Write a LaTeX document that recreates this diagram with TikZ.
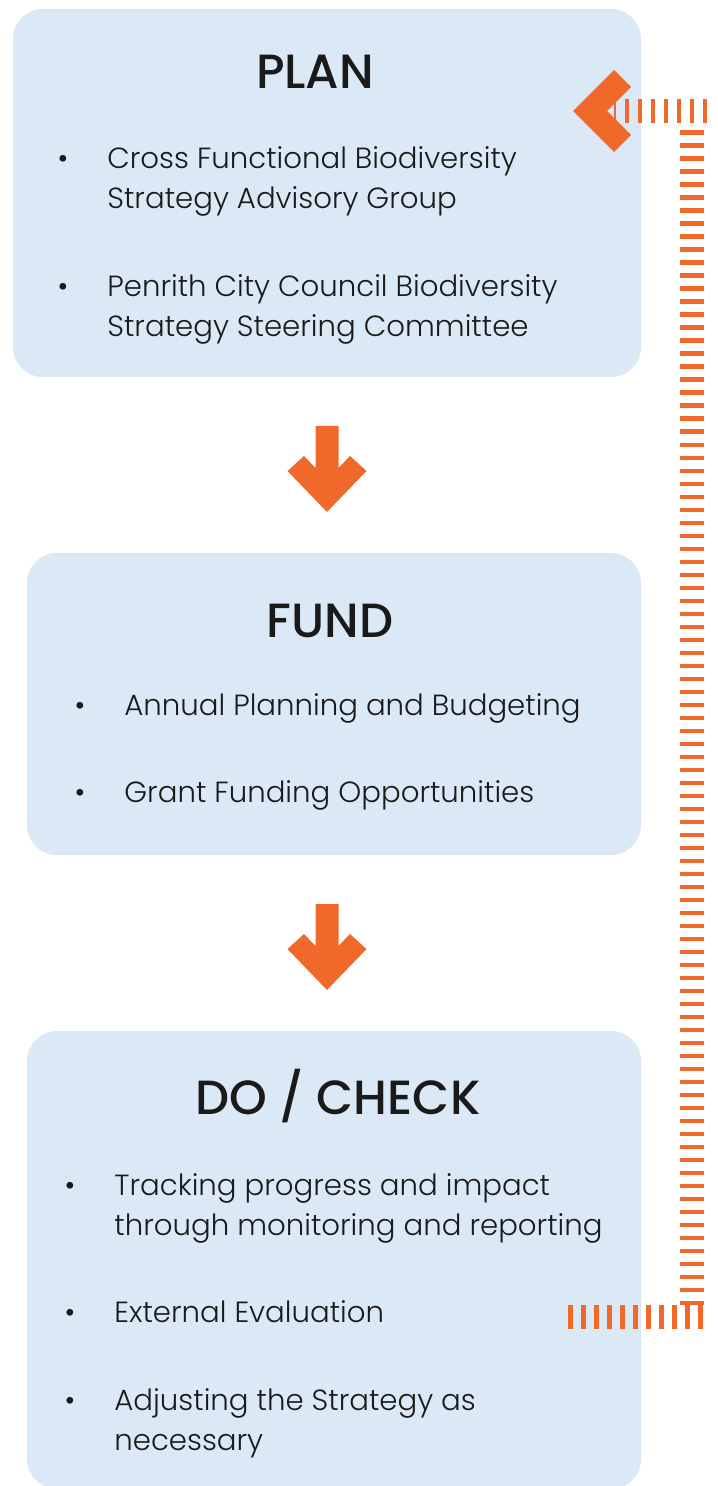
\documentclass[tikz,border=0pt]{standalone}
\usepackage{fontspec}
\setmainfont{Poppins}
\IfFontExistsTF{Poppins Medium}{\newfontfamily\titlefont{Poppins Medium}}{\newfontfamily\titlefont{Poppins}}
\IfFontExistsTF{Poppins Light}{\newfontfamily\bodyfont{Poppins Light}}{\newfontfamily\bodyfont{Poppins}}
\usetikzlibrary{calc}

\definecolor{pcorange}{HTML}{F0692A}
\definecolor{pcblue}{HTML}{DBE9F6}
\definecolor{pctext}{HTML}{1A1A1A}

\tikzset{
  stagebox/.style={fill=pcblue, rounded corners=15pt, inner sep=0pt},
  stagetitle/.style={anchor=base, text=pctext, font=\titlefont\fontsize{24}{28}\selectfont},
  itemtext/.style={anchor=base west, align=left, inner sep=0pt, text=pctext, font=\bodyfont\fontsize{14.6}{20}\selectfont},
  itemdot/.style={anchor=base, inner sep=0pt, text=pctext, font=\bodyfont\fontsize{14.6}{20}\selectfont},
  blockarrow/.style={fill=pcorange},
  feedback/.style={draw=pcorange, line width=12pt, dash pattern=on 2.25pt off 4.25pt}
}

\begin{document}
\begin{tikzpicture}[x=0.5pt,y=-0.5pt]
            \useasboundingbox (0,0) rectangle (717,1486);

            %% les trois cadres
            \node (plan) [stagebox, minimum width=314pt, minimum height=184pt] at (327,193) {};
            \node (fund) [stagebox, minimum width=307pt, minimum height=151pt] at (334,704) {};
            \node (docheck) [stagebox, minimum width=307pt, minimum height=229pt] at (334,1260) {};

            %% PLAN
            \node (plantitle) [stagetitle] at (315,89) {PLAN};
            \node (plandota) [itemdot] at (63,169) {•};
            \node (planitema) [itemtext] at (107,209) {Cross Functional Biodiversity\\Strategy Advisory Group};
            \node (plandotb) [itemdot] at (63,297) {•};
            \node (planitemb) [itemtext] at (107,337) {Penrith City Council Biodiversity\\Strategy Steering Committee};

            %% FUND
            \node (fundtitle) [stagetitle] at (330,637) {FUND};
            \node (funddota) [itemdot] at (80,715) {•};
            \node (funditema) [itemtext] at (124,715) {Annual Planning and Budgeting};
            \node (funddotb) [itemdot] at (80,802) {•};
            \node (funditemb) [itemtext] at (124,802) {Grant Funding Opportunities};

            %% DO / CHECK
            \node (dotitle) [stagetitle] at (338,1114) {DO / CHECK};
            \node (dodota) [itemdot] at (70,1195) {•};
            \node (doitema) [itemtext] at (114,1235) {Tracking progress and impact\\through monitoring and reporting};
            \node (dodotb) [itemdot] at (70,1322) {•};
            \node (doitemb) [itemtext] at (114,1322) {External Evaluation};
            \node (dodotc) [itemdot] at (70,1410) {•};
            \node (doitemc) [itemtext] at (114,1450) {Adjusting the Strategy as\\necessary};

            %% fleches vers le bas
            \foreach \tip in {512,990} {
                \fill [blockarrow, shift={(327,\tip)}] (-11.5,-86) -- (11.5,-86) -- (11.5,-44) -- (23,-56)
                    -- (39.5,-41) -- (0,0) -- (-39.5,-41) -- (-23,-56) -- (-11.5,-44) -- cycle;
            }

            %% retour vers PLAN
            \coordinate (fbstart) at (568,1317);
            \coordinate (fbbottom) at (704,1317);
            \coordinate (fbvlow) at (692,1305);
            \coordinate (fbvhigh) at (692,124);
            \coordinate (fbtop) at (707,111);
            \coordinate (fbend) at (614,111);
            \draw [feedback] (fbstart) -- (fbbottom);
            \draw [feedback] (fbvlow) -- (fbvhigh);
            \draw [feedback] (fbtop) -- (fbend);
            \fill [blockarrow] (573,111) -- (614,70) -- (631,87) -- (607,111) -- (631,135) -- (614,152) -- cycle;
        \end{tikzpicture}
\end{document}
